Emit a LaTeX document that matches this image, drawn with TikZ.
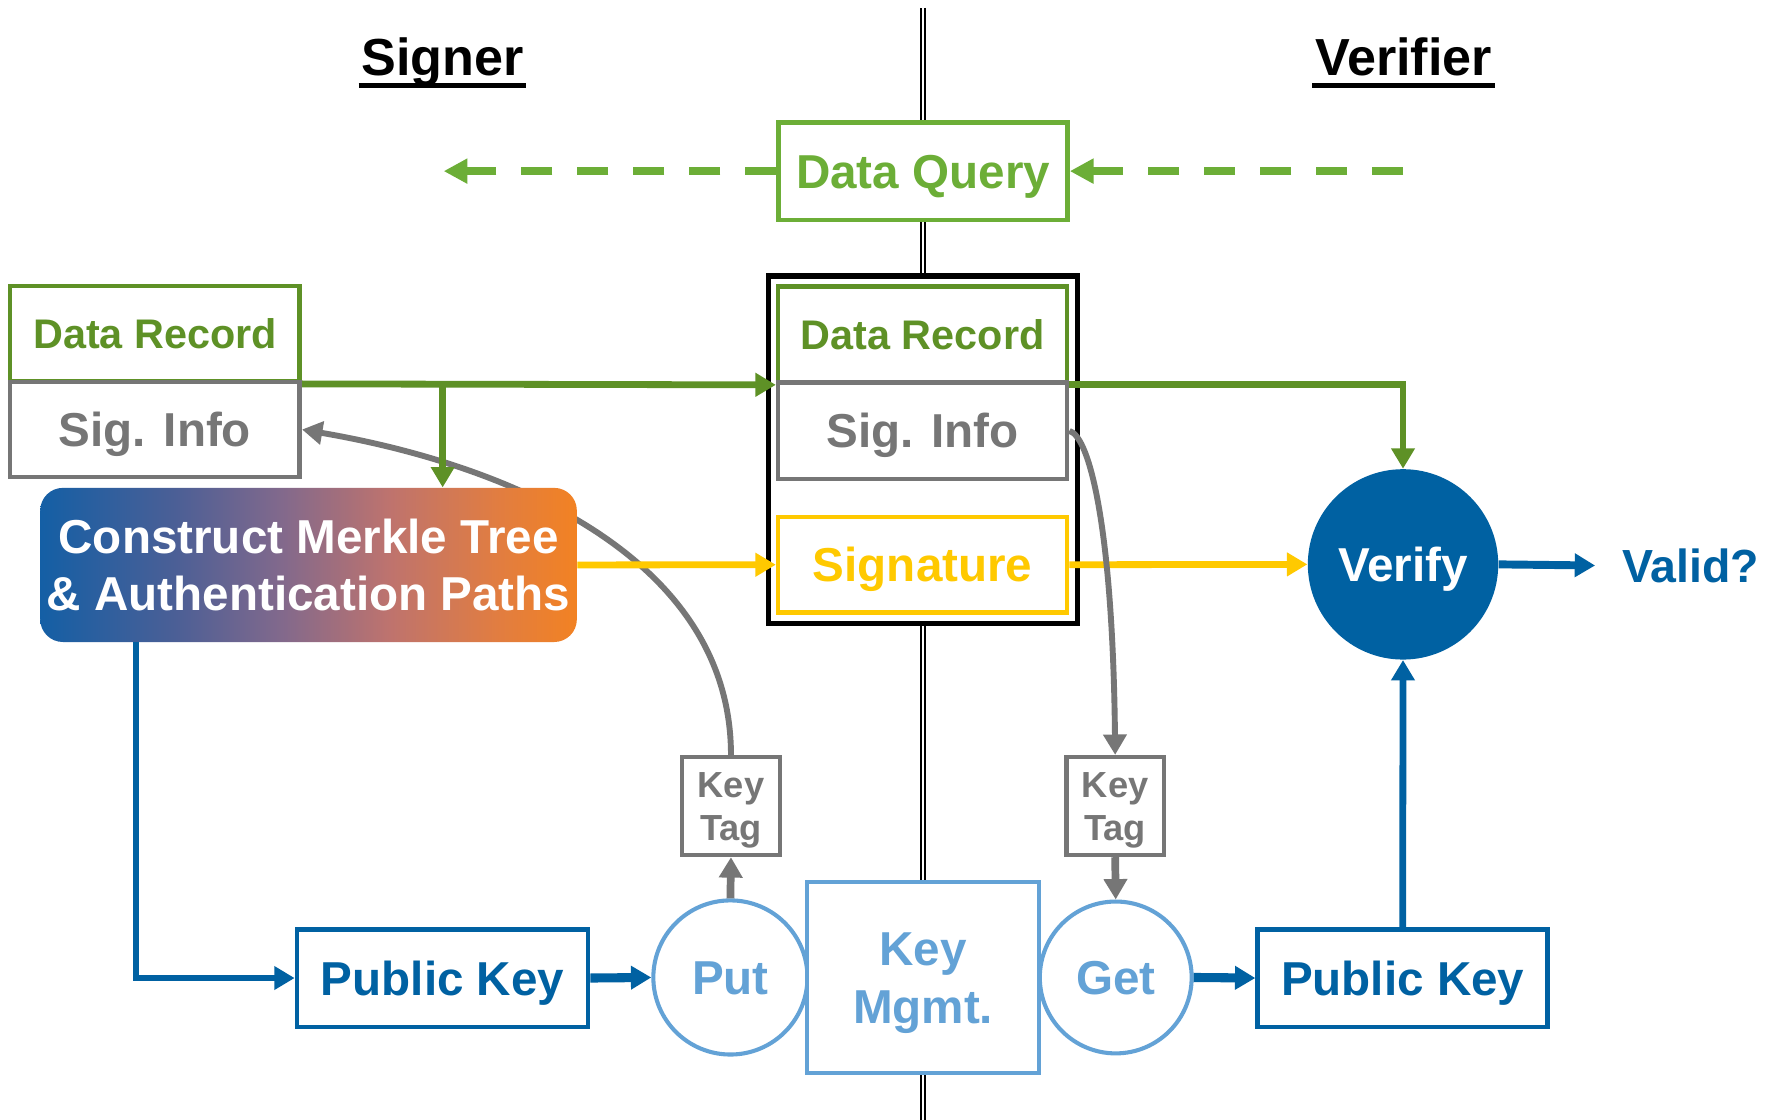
\documentclass[tikz,border=0pt]{standalone}
\usepackage{fontspec}
\setmainfont{Liberation Sans}
\usetikzlibrary{arrows.meta}

\definecolor{qgreen}{RGB}{108,174,55}
\definecolor{rgreen}{RGB}{94,145,38}
\definecolor{tgray}{RGB}{118,118,118}
\definecolor{sigyellow}{RGB}{255,201,0}
\definecolor{dblue}{RGB}{0,97,162}
\definecolor{lblue}{RGB}{99,162,214}
\definecolor{mkA}{RGB}{20,95,165}
\definecolor{mkB}{RGB}{75,95,150}
\definecolor{mkC}{RGB}{130,105,140}
\definecolor{mkD}{RGB}{190,115,110}
\definecolor{mkE}{RGB}{225,125,65}
\definecolor{mkF}{RGB}{242,130,35}

% blue-to-orange blend of the Merkle tree step
\pgfdeclarehorizontalshading{merkleshade}{100bp}{color(0bp)=(mkA); color(25bp)=(mkA); color(37.5bp)=(mkB); color(47.5bp)=(mkC); color(57.5bp)=(mkD); color(67.5bp)=(mkE); color(75bp)=(mkF); color(100bp)=(mkF)}

\tikzset{
  bigfont/.style={font=\bfseries\fontsize{21pt}{25pt}\selectfont, text height=15pt, text depth=0pt},
  box/.style={draw, fill=white, line width=2pt, inner sep=0pt, bigfont},
  tagbox/.style={draw=tgray, fill=white, text=tgray, line width=1.9pt, inner sep=0pt, align=center,
    font=\bfseries\fontsize{16pt}{19.3pt}\selectfont, text height=30.8pt, text depth=0pt,
    minimum width=43pt, minimum height=43.25pt},
  kmcircle/.style={circle, draw=lblue, fill=white, text=lblue, line width=1.8pt, inner sep=0pt, bigfont},
  title/.style={anchor=base, inner sep=0pt, font=\bfseries\fontsize{23pt}{27pt}\selectfont, text depth=0pt},
  headtip/.style={-{Triangle[length=9pt,width=10pt]}},
  dashq/.style={draw=qgreen, line width=3.3pt, dash pattern=on 13.7pt off 11pt, -{Triangle[length=10.5pt,width=10.5pt]}},
  garrow/.style={draw=rgreen, line width=3pt, headtip},
  yarrow/.style={draw=sigyellow, line width=3pt, headtip},
  barrow/.style={draw=dblue, line width=3pt, headtip},
  grayarrow/.style={draw=tgray, line width=3.4pt, headtip},
  graycurve/.style={draw=tgray, line width=2.6pt, headtip},
}

\begin{document}
\begin{tikzpicture}[x=0.5pt, y=-0.5pt]
\fill[white] (0,0) rectangle (1568,988);
\useasboundingbox (0,0) rectangle (1568,988);

% dividing line between the two parties
\coordinate (ctop) at (814.45,7);
\coordinate (cbot) at (814.45,988);
\draw[line width=0.9pt, double=white, double distance=0.85pt] (ctop) -- (cbot);

% party titles
\node[title] (tS) at (390.5,67) {Signer};
\node[title] (tV) at (1238.5,67) {Verifier};
\draw[line width=2.3pt] ([yshift=-4.15pt,xshift=-1pt]tS.base west) -- ([yshift=-4.15pt,xshift=1pt]tS.base east);
\draw[line width=2.3pt] ([yshift=-4.15pt,xshift=-1pt]tV.base west) -- ([yshift=-4.15pt,xshift=1pt]tV.base east);

% query
\node[box, draw=qgreen, text=qgreen, minimum width=127.5pt, minimum height=43pt] (dq) at (814.5,151) {Data Query};
\coordinate (qL) at (391.5,151);
\coordinate (qR) at (1238,151);
\draw[dashq] (dq.west) -- (qL);
\draw[dashq] (qR) -- (dq.east);

% signer's record
\node[box, draw=rgreen, text=rgreen, font=\bfseries\fontsize{18.25pt}{22pt}\selectfont, text height=13.1pt,
      minimum width=127.75pt, minimum height=42.25pt] (drL) at (136.75,294.5) {Data Record};
\node[box, draw=tgray, text=tgray, minimum width=127.75pt, minimum height=42pt] (siL) at (136.75,379) {Sig. Info};

% record as served
\node[draw=black, fill=white, line width=2.4pt, inner sep=0pt, minimum width=136.5pt, minimum height=153.25pt] (rr) at (814.5,396.75) {};
\node[box, draw=rgreen, text=rgreen, font=\bfseries\fontsize{18.25pt}{22pt}\selectfont, text height=13.1pt,
      minimum width=127.5pt, minimum height=42.3pt] (drM) at (814.1,295.3) {Data Record};
\node[box, draw=tgray, text=tgray, minimum width=127.5pt, minimum height=42.6pt] (siM) at (814.1,380.2) {Sig. Info};
\node[box, draw=sigyellow, text=sigyellow, minimum width=127.5pt, minimum height=42.3pt] (sig) at (814.1,498.3) {Signature};

% verification
\node[circle, fill=dblue, text=white, inner sep=0pt, minimum size=84pt, bigfont] (vf) at (1238,498) {Verify};
\node[anchor=west, text=dblue, inner xsep=11.75pt, inner ysep=0pt,
      font=\bfseries\fontsize{20.5pt}{24pt}\selectfont, text height=14.7pt, text depth=0pt] (val) at (1407.5,499) {Valid?};

% key management
\node[tagbox] (ktL) at (645,711.25) {Key\\Tag};
\node[tagbox] (ktR) at (984,711.25) {Key\\Tag};
\node[kmcircle, minimum size=68pt] (put) at (644.5,862.5) {Put};
\node[kmcircle, minimum size=67pt] (get) at (984.5,862.5) {Get};
\node[box, draw=lblue, text=lblue, line width=1.8pt, align=center,
      font=\bfseries\fontsize{21pt}{25.75pt}\selectfont, text height=40.75pt, text depth=0pt,
      minimum width=102.5pt, minimum height=84.25pt] (km) at (814.5,862.25) {Key\\Mgmt.};
\node[box, draw=dblue, text=dblue, minimum width=128.5pt, minimum height=43pt] (pkL) at (390.5,863) {Public Key};
\node[box, draw=dblue, text=dblue, minimum width=128pt, minimum height=43pt] (pkR) at (1237.7,863) {Public Key};

% key tag written back into the signer's Sig. Info
\draw[graycurve] (ktL.north) .. controls (645,500) and (465,413) .. (siL.east);

% signing step
\node[rounded corners=10pt, shading=merkleshade, text=white, align=center, inner sep=0pt,
      font=\bfseries\fontsize{21pt}{25pt}\selectfont, text height=40pt, text depth=0pt,
      minimum width=236.75pt, minimum height=68pt] (mk) at (272.25,498.5) {Construct Merkle Tree\\\& Authentication Paths};

% data record flow
\coordinate (gbr) at (390.6,337);
\draw[garrow] (drL.south east) -- (drM.south west);
\draw[garrow] (gbr) -- (gbr |- mk.north);
\draw[garrow] (drM.south east) -| (vf.north);

% signature flow
\draw[yarrow] (mk.east) -- (sig.west);
\draw[yarrow] (sig.east) -- (vf.west);

% public key flow
\coordinate (mkb) at (120,566.5);
\draw[barrow, line width=2.8pt] (mkb) |- (pkL.west);
\draw[barrow, line width=4pt] (pkL.east) -- (put.west);
\draw[barrow, line width=4pt] (get.east) -- (pkR.west);
\draw[barrow] (pkR.north) -- (vf.south);
\draw[barrow, line width=3.5pt] (vf.east) -- (val.west);

% key tags
\draw[grayarrow] (put.north) -- (ktL.south);
\draw[grayarrow] (ktR.south) -- (get.north);
\draw[graycurve] (siM.east) .. controls (962,385) and (982,470) .. (ktR.north);
\end{tikzpicture}
\end{document}
